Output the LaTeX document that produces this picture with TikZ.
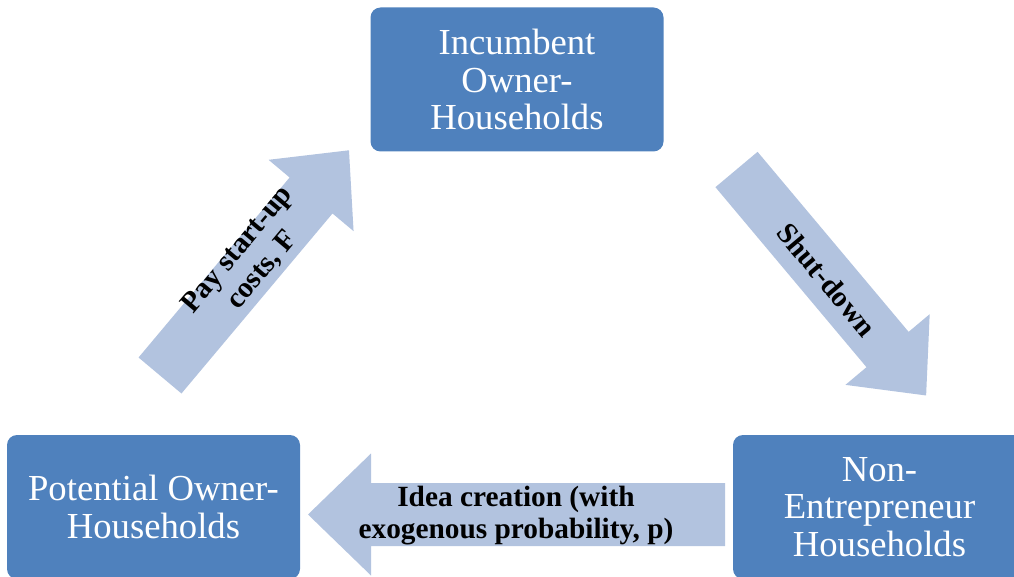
\documentclass[tikz,border=0pt]{standalone}
\usepackage{fontspec}
\setmainfont{Liberation Serif}
\definecolor{boxblue}{HTML}{4F81BD}
\definecolor{arrowblue}{HTML}{B2C3DF}
\tikzset{
  hhbox/.style={fill=boxblue, rounded corners=7.5pt, minimum width=219.75pt,
    minimum height=108pt, inner sep=0pt, text=white, align=center,
    font=\fontsize{27.5}{28.2}\selectfont},
  lbl/.style={font=\bfseries\fontsize{22}{24}\selectfont, align=center, inner sep=0pt},
  barrow/.style={fill=arrowblue}
}
% x y angle shaftlength shaftwidth headwidth headlength
\newcommand\blockarrow[7]{%
  \fill[barrow, shift={(#1,#2)}, rotate=#3]
    (0,-#5/2) -- (#4,-#5/2) -- (#4,-#6/2) -- (#4+#7,0) -- (#4,#6/2)
    -- (#4,#5/2) -- (0,#5/2) -- cycle;}
\begin{document}
\begin{tikzpicture}[x=0.75pt,y=0.75pt]
\useasboundingbox (0,0) rectangle (1014,576);
\clip (0,0) rectangle (1014,576);
% block arrows
\blockarrow{160}{200.5}{50}{235}{56}{111}{59}
\blockarrow{736.5}{406.5}{-50}{235}{55}{110}{60}
\blockarrow{725}{61.5}{180}{354}{63}{122}{63}
% boxes
\node[hhbox] (inc) at (517,496.5) {Incumbent\\Owner-\\Households};
\node[hhbox] (pot) at (153.5,69) {Potential Owner-\\Households};
\node[hhbox] (non) at (879.5,69) {Non-\\Entrepreneur\\Households};
% labels
\node[lbl, rotate=50] (pay) at (250,316) {Pay start-up\\costs, F};
\node[lbl, rotate=-50] (shut) at (827,296) {Shut-down};
\node[lbl] (idea) at (516,60) {Idea creation (with\\exogenous probability, p)};
\end{tikzpicture}
\end{document}
